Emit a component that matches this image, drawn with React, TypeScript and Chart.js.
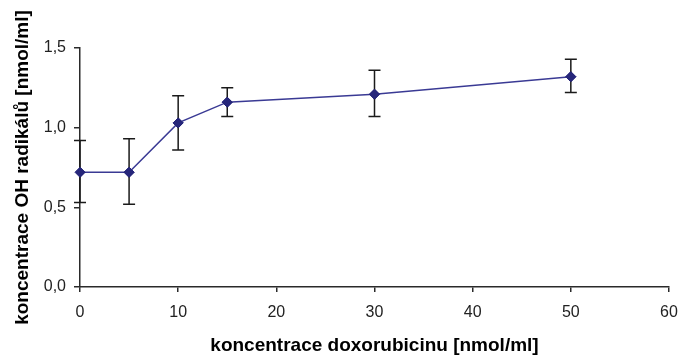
import React, { useEffect, useRef } from "react";
import { Chart, registerables } from "chart.js";

Chart.register(...registerables);

const concentrations = [0, 5, 10, 15, 30, 50];
const ohRadicals = [0.72, 0.72, 1.03, 1.16, 1.21, 1.32];
const errorUpper = [0.92, 0.93, 1.2, 1.25, 1.36, 1.43];
const errorLower = [0.53, 0.52, 0.86, 1.07, 1.07, 1.22];
const xTickLabels = ["0", "10", "20", "30", "40", "50", "60"];
const yTickLabels = ["0,0", "0,5", "1,0", "1,5"];
const xTitle = "koncentrace doxorubicinu [nmol/ml]";
const yTitle = "koncentrace OH radikálů [nmol/ml]";

const errorBarPlugin = {
  id: "errorBars",
  afterDatasetsDraw(chart: any) {
    const { ctx, scales } = chart;
    const xs = scales.x;
    const ys = scales.y;
    ctx.save();
    ctx.strokeStyle = "#1a1a1a";
    ctx.lineWidth = 1.5;
    const cap = 6;
    concentrations.forEach((c, i) => {
      const px = xs.getPixelForValue(c);
      const top = ys.getPixelForValue(errorUpper[i]);
      const bot = ys.getPixelForValue(errorLower[i]);
      ctx.beginPath();
      ctx.moveTo(px, top);
      ctx.lineTo(px, bot);
      ctx.moveTo(px - cap, top);
      ctx.lineTo(px + cap, top);
      ctx.moveTo(px - cap, bot);
      ctx.lineTo(px + cap, bot);
      ctx.stroke();
    });
    ctx.restore();
  },
};

const pointsOnTopPlugin = {
  id: "pointsOnTop",
  afterDraw(chart: any) {
    const meta = chart.getDatasetMeta(0);
    const ctx = chart.ctx;
    ctx.save();
    meta.data.forEach((el: any) => el.draw(ctx, chart.chartArea));
    ctx.restore();
  },
};

export default function App() {
  const ref = useRef<HTMLCanvasElement | null>(null);

  useEffect(() => {
    if (!ref.current) return;
    const axisColor = "#2a2a2a";
    const chart = new Chart(ref.current, {
      type: "line",
      data: {
        datasets: [
          {
            data: concentrations.map((c, i) => ({ x: c, y: ohRadicals[i] })),
            borderColor: "#3a3a94",
            borderWidth: 1.5,
            backgroundColor: "#26267a",
            pointBackgroundColor: "#26267a",
            pointBorderColor: "#26267a",
            pointStyle: "rectRot",
            pointRadius: 5,
            pointBorderWidth: 1,
            tension: 0,
            fill: false,
          },
        ],
      },
      options: {
        animation: false,
        responsive: false,
        maintainAspectRatio: false,
        devicePixelRatio: 1,
        layout: { padding: { top: 48, right: 9, bottom: 0, left: 0 } },
        plugins: {
          legend: { display: false },
          tooltip: { enabled: false },
        },
        scales: {
          x: {
            type: "linear",
            min: 0,
            max: 60,
            afterFit: (s: any) => {
              s.height = 69;
              s.paddingLeft = 0;
              s.paddingRight = 0;
            },
            afterBuildTicks: (s: any) => {
              s.ticks = xTickLabels.map((_, i) => ({ value: i * 10 }));
            },
            ticks: {
              stepSize: 10,
              padding: 11,
              maxRotation: 0,
              color: "#222",
              font: { family: "'Liberation Sans', Arial, sans-serif", size: 16 },
              callback: (_v: any, i: number) => xTickLabels[i],
            },
            grid: {
              drawOnChartArea: false,
              drawTicks: true,
              tickLength: 5,
              color: axisColor,
              lineWidth: 1.5,
            },
            border: { display: true, color: axisColor, width: 1.5 },
            title: {
              display: true,
              text: xTitle,
              color: "#000",
              font: {
                family: "'Liberation Sans', Arial, sans-serif",
                size: 19,
                weight: "bold",
                lineHeight: 1,
              },
              padding: { top: 0, bottom: 0.5 },
            },
          },
          y: {
            type: "linear",
            min: 0,
            max: 1.5,
            afterFit: (s: any) => {
              s.width = 80;
            },
            afterBuildTicks: (s: any) => {
              s.ticks = yTickLabels.map((_, i) => ({ value: i * 0.5 }));
            },
            ticks: {
              stepSize: 0.5,
              padding: 8,
              color: "#222",
              font: { family: "'Liberation Sans', Arial, sans-serif", size: 16 },
              callback: (_v: any, i: number) => yTickLabels[i],
            },
            grid: {
              drawOnChartArea: false,
              drawTicks: true,
              tickLength: 6,
              color: axisColor,
              lineWidth: 1.5,
            },
            border: { display: true, color: axisColor, width: 1.5 },
            title: {
              display: true,
              text: yTitle,
              color: "#000",
              font: {
                family: "'Liberation Sans', Arial, sans-serif",
                size: 19,
                weight: "bold",
                lineHeight: 1,
              },
              padding: { top: 13.5, bottom: 0 },
            },
          },
        },
      },
      plugins: [errorBarPlugin, pointsOnTopPlugin],
    } as any);
    return () => chart.destroy();
  }, []);

  return (
    <div style={{ position: "absolute", left: 0, top: 0, width: 678, height: 356, background: "#fff" }}>
      <canvas ref={ref} width={678} height={356} style={{ width: 678, height: 356, display: "block" }} />
    </div>
  );
}
